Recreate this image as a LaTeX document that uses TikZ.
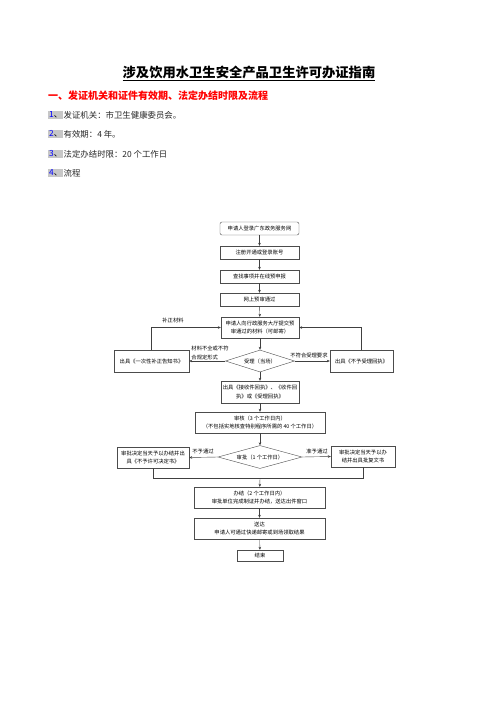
\documentclass[tikz,border=0pt]{standalone}
\usepackage{fontspec}
\setmainfont{Noto Sans CJK SC}
\usetikzlibrary{arrows.meta, shapes.geometric}

\begin{document}
\begin{tikzpicture}[x=1pt, y=-1pt,
    box/.style={rectangle, draw=black!70, line width=0.4pt, align=center, inner sep=0pt, font=\fontsize{5.3}{8.5}\selectfont},
    decide/.style={diamond, draw=black!70, line width=0.4pt, aspect=3, inner sep=0pt, font=\fontsize{5.3}{8.5}\selectfont},
    flow/.style={-{Stealth[length=3pt, width=2.6pt]}, line width=0.4pt, draw=black!75},
    mergeline/.style={line width=0.4pt, draw=black!75},
    lbl/.style={font=\fontsize{5.3}{8.5}\selectfont, align=left, inner sep=0pt},
    num/.style={fill=black!22, inner sep=1pt, font=\fontsize{8.4}{10}\selectfont},
    item/.style={inner sep=0pt, text=black!85, font=\fontsize{8.4}{10}\selectfont}
]
    \useasboundingbox (0,0) rectangle (496,702);

    % Title and heading
    \node[font=\fontsize{13.3}{15}\selectfont\bfseries] (title) at (249, 73) {\underline{涉及饮用水卫生安全产品卫生许可办证指南}};
    \node[anchor=west, inner sep=0pt, text=red, font=\fontsize{10}{12}\selectfont\bfseries] (head) at (48, 96) {一、发证机关和证件有效期、法定办结时限及流程};

    % Items
    \foreach \i/\y/\txt in {1/115/发证机关：市卫生健康委员会。, 2/134/有效期：4 年。, 3/154/法定办结时限：20 个工作日, 4/173/流程} {
        \node[num, anchor=west] (n\i) at (48, \y) {\textcolor{blue}{\i}、};
        \node[item, anchor=west] (t\i) at (n\i.east) {\txt};
    }

    % Main column
    \node[box, rounded corners=2pt, minimum width=79pt, minimum height=13pt] (s1) at (259.5, 228.5) {申请人登录广东政务服务网};
    \node[box, minimum width=79pt, minimum height=13pt] (s2) at (259.5, 252.5) {注册开通或登录账号};
    \node[box, minimum width=79pt, minimum height=13pt] (s3) at (259.5, 276.5) {查找事项并在线预申报};
    \node[box, minimum width=79pt, minimum height=13pt] (s4) at (259.5, 299.5) {网上预审通过};
    \node[box, minimum width=78pt, minimum height=21pt] (s5) at (260, 327.5) {申请人向行政服务大厅提交预\\审通过的材料（可邮寄）};
    \node[decide, minimum width=69pt, minimum height=22pt] (d1) at (260, 361) {受理（当场）};
    \node[box, minimum width=75pt, minimum height=22pt] (fix) at (151.5, 361) {出具《一次性补正告知书》};
    \node[box, minimum width=63pt, minimum height=22pt] (refuse) at (361.5, 361) {出具《不予受理回执》};
    \node[box, minimum width=78pt, minimum height=22pt] (s6) at (260, 392) {出具《接收件回执》、《收件回\\执》或《受理回执》};
    \node[box, minimum width=130pt, minimum height=21pt] (s7) at (260, 422.5) {审核（3 个工作日内）\\（不包括实地核查特别程序所需的 40 个工作日）};
    \node[decide, minimum width=84pt, minimum height=23pt] (d2) at (260, 457) {审批（1 个工作日）};
    \node[box, minimum width=72pt, minimum height=21pt] (deny) at (153, 457.5) {审批决定当天予以办结并出\\具《不予许可决定书》};
    \node[box, minimum width=64pt, minimum height=21pt] (grant) at (363, 456.5) {审批决定当天予以办\\结并出具批复文书};
    \node[box, minimum width=131pt, minimum height=21pt] (s8) at (259.5, 497.5) {办结（2 个工作日内）\\审批单位完成制证并办结，送达出件窗口};
    \node[box, minimum width=131pt, minimum height=21pt] (s9) at (259.5, 528.5) {送达\\申请人可通过快递邮寄或到场领取结果};
    \node[box, minimum width=46pt, minimum height=11pt] (s10) at (260, 555.5) {结束};

    \foreach \a/\b in {s1/s2, s2/s3, s3/s4, s4/s5, s5/d1, d1/s6, s6/s7, s7/d2, s8/s9, s9/s10}
        \draw[flow] (\a) -- (\b);

    % Acceptance branches
    \draw[flow] (d1.west) -- (fix.east);
    \draw[flow] (d1.east) -- (refuse.west);
    \draw[flow] (fix.north) |- (s5.west);
    \draw[flow] (refuse.north) |- (s5.east);
    \node[lbl] (l1) at (173, 320) {补正材料};
    \node[lbl] (l2) at (210, 353) {材料不全或不符\\合规定形式};
    \node[lbl] (l3) at (309, 355) {不符合受理要求};

    % Approval branches
    \draw[flow] (d2.west) -- (deny.east);
    \draw[flow] (d2.east) -- (grant.west);
    \node[lbl] (l4) at (203, 451) {不予通过};
    \node[lbl] (l5) at (317, 451) {准予通过};
    \coordinate (merge) at (260, 478);
    \draw[mergeline] (deny.south) -- (deny.south |- merge) -- (grant.south |- merge) -- (grant.south);
    \draw[flow] (merge) -- (s8);
\end{tikzpicture}
\end{document}
